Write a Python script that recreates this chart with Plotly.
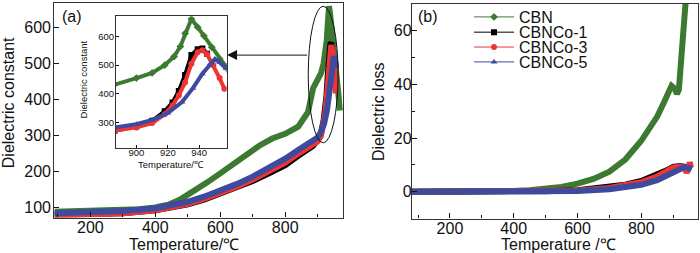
import plotly.graph_objects as go

# ---------------- data: panel (a) dielectric constant ----------------
T_cbn = [90, 150, 200, 250, 300, 350, 400, 440, 480, 520, 560, 600, 640, 680, 720, 760, 800, 840, 870,
         886, 900, 910, 918, 924, 928, 931, 935, 939, 943, 948, 953, 957, 961, 965, 968]
eps_cbn = [88, 89, 90, 91, 93, 95, 100, 108, 124, 146, 170, 195, 222, 248, 272, 292, 305, 325, 365,
           432, 455, 473, 500, 530, 565, 610, 660, 632, 602, 562, 522, 495, 450, 405, 370]

T_co1 = [90, 200, 300, 400, 450, 500, 550, 600, 650, 700, 750, 800, 840, 870, 886, 900, 910, 918, 923,
         927, 931, 935, 939, 942, 945]
eps_co1 = [80, 81, 84, 92, 99, 109, 122, 138, 155, 174, 195, 218, 244, 262, 272, 288, 307, 340, 370,
           410, 466, 535, 555, 558, 540]

T_co3 = [90, 200, 300, 400, 450, 500, 550, 600, 650, 700, 750, 800, 840, 870, 886, 900, 910, 918, 923,
         927, 931, 935, 939, 942, 945, 949, 953, 956]
eps_co3 = [78, 80, 84, 92, 100, 110, 124, 140, 158, 178, 200, 225, 250, 266, 272, 284, 299, 330, 360,
           395, 440, 505, 545, 552, 538, 500, 455, 418]

T_co5 = [90, 200, 300, 400, 450, 500, 550, 600, 650, 700, 750, 800, 840, 870, 886, 900, 910, 920, 929,
         936, 942, 947, 950, 953, 957]
eps_co5 = [84, 86, 90, 98, 105, 116, 130, 146, 165, 186, 210, 236, 260, 277, 284, 295, 310, 334, 372,
           420, 470, 505, 521, 510, 489]

# ---------------- data: panel (b) dielectric loss ----------------
Tl_cbn = [81, 200, 300, 400, 450, 500, 550, 600, 650, 700, 750, 800, 830, 850, 870, 885, 895, 905, 912,
          918, 922, 928, 933, 938, 942]
loss_cbn = [0, 0, 0.1, 0.3, 0.6, 1.0, 1.8, 3.0, 4.8, 7.5, 12, 19, 24, 28, 33, 37, 39.5, 38.5, 36.5,
            38, 45, 55, 63, 70, 75]

Tl_co1 = [81, 300, 500, 600, 700, 750, 800, 850, 880, 900, 920, 940]
loss_co1 = [0, 0, 0.2, 0.6, 1.6, 2.6, 4.0, 6.2, 8.0, 9.3, 9.6, 9.2]

Tl_co3 = [81, 300, 500, 600, 700, 750, 800, 850, 880, 900, 920, 935, 942, 948, 952, 956]
loss_co3 = [0, 0, 0.2, 0.5, 1.4, 2.3, 3.6, 5.7, 7.6, 9.0, 9.4, 9.0, 7.2, 8.5, 11, 9]

Tl_co5 = [81, 300, 500, 600, 700, 750, 800, 850, 880, 900, 920, 935, 950, 958]
loss_co5 = [0, 0, 0.1, 0.3, 0.9, 1.6, 2.6, 4.3, 6.0, 7.5, 8.8, 9.2, 8.8, 8.3]

names = ["CBN", "CBNCo-1", "CBNCo-3", "CBNCo-5"]
colors = ["#3c7a32", "#000000", "#ee3535", "#3e4a9e"]
symbols = ["diamond", "square", "circle", "triangle-up"]

eps_sets = [(T_cbn, eps_cbn), (T_co1, eps_co1), (T_co3, eps_co3), (T_co5, eps_co5)]
loss_sets = [(Tl_cbn, loss_cbn), (Tl_co1, loss_co1), (Tl_co3, loss_co3), (Tl_co5, loss_co5)]

FONT = "Liberation Sans, Arial, sans-serif"
W, H = 700, 253

def px(x):
    return x / W

def py(y):
    return 1 - y / H

fig = go.Figure()

# panel (a) main
for (t, v), c in zip(eps_sets, colors):
    fig.add_trace(go.Scatter(x=t, y=v, mode="lines", line=dict(color=c, width=6),
                             showlegend=False, xaxis="x", yaxis="y"))
# inset
for (t, v), c, s in zip(eps_sets, colors, symbols):
    fig.add_trace(go.Scatter(x=t, y=v, mode="lines+markers", line=dict(color=c, width=4),
                             marker=dict(color=c, size=6, symbol=s),
                             showlegend=False, xaxis="x3", yaxis="y3"))
# panel (b)
for (t, v), c in zip(loss_sets, colors):
    fig.add_trace(go.Scatter(x=t, y=v, mode="lines", line=dict(color=c, width=6),
                             showlegend=False, xaxis="x2", yaxis="y2"))

# legend entries (one legend per row for exact spacing)
leg_ids = ["legend", "legend2", "legend3", "legend4"]
leg_rows = [15, 30.5, 45.5, 60.5]
for n, c, s, lid in zip(names, colors, symbols, leg_ids):
    fig.add_trace(go.Scatter(x=[None], y=[None], mode="lines+markers", name=n,
                             line=dict(color=c, width=1), marker=dict(color=c, size=6, symbol=s),
                             xaxis="x2", yaxis="y2", legend=lid, showlegend=True))

axis_common = dict(showline=True, linecolor="#333", linewidth=1.3, mirror=True, ticks="inside",
                   showgrid=False, zeroline=False, color="#111",
                   tickfont=dict(family=FONT, size=16, color="#111"))

layout = dict(
    width=W, height=H, margin=dict(l=0, r=0, t=0, b=0),
    paper_bgcolor="white", plot_bgcolor="white",
    font=dict(family=FONT, size=16, color="#111"),
    xaxis=dict(domain=[px(54.3), px(343)], range=[89, 978], tickvals=[200, 400, 600, 800],
               ticklen=5, minor=dict(dtick=100, tick0=0, ticks="inside", ticklen=3), anchor="y",
               ticklabelstandoff=-5, **axis_common),
    yaxis=dict(domain=[py(217.3), py(1)], range=[72, 669], tickvals=[100, 200, 300, 400, 500, 600],
               ticklen=5, anchor="x", ticklabelstandoff=-1, **axis_common),
    xaxis2=dict(domain=[px(412), px(698)], range=[81, 978], tickvals=[200, 400, 600, 800],
                ticklen=5, minor=dict(dtick=100, tick0=0, ticks="inside", ticklen=3), anchor="y2",
                ticklabelstandoff=-5, **axis_common),
    yaxis2=dict(domain=[py(218.3), py(2)], range=[-10, 70], tickvals=[0, 20, 40, 60],
                ticklen=5, minor=dict(dtick=10, tick0=0, ticks="inside", ticklen=3), anchor="x2",
                ticklabelstandoff=-4, **axis_common),
)
inset_axis = dict(axis_common)
inset_axis["tickfont"] = dict(family=FONT, size=9.5, color="#111")
inset_axis["linewidth"] = 1
layout["xaxis3"] = dict(domain=[px(116), px(226.7)], range=[887, 957.5], tickvals=[900, 920, 940],
                        ticklen=3, anchor="y3", ticklabelstandoff=-4, **inset_axis)
layout["yaxis3"] = dict(domain=[py(146.7), py(14.3)], range=[214, 670], tickvals=[300, 400, 500, 600],
                        ticklen=3, anchor="x3", ticklabelstandoff=-1, **inset_axis)

for lid, row in zip(leg_ids, leg_rows):
    layout[lid] = dict(x=px(469), y=py(row), xanchor="left", yanchor="middle",
                       bgcolor="rgba(0,0,0,0)", borderwidth=0,
                       font=dict(family=FONT, size=16, color="#111"), itemwidth=40,
                       tracegroupgap=0)

fig.update_layout(**layout)

annots = [
    dict(text="Dielectric constant", x=px(8), y=py(102), textangle=-90, size=16),
    dict(text="Temperature/℃", x=px(184), y=py(244), textangle=0, size=16),
    dict(text="Dielectric loss", x=px(378), y=py(111), textangle=-90, size=16),
    dict(text="Temperature /℃", x=px(558), y=py(244), textangle=0, size=16),
    dict(text="Dielectric constant", x=px(83), y=py(78), textangle=-90, size=9.5),
    dict(text="Temperature/℃", x=px(171), y=py(164), textangle=0, size=9.5),
    dict(text="(a)", x=px(72), y=py(15), textangle=0, size=16),
    dict(text="(b)", x=px(428), y=py(15), textangle=0, size=16),
]
for a in annots:
    fig.add_annotation(text=a["text"], x=a["x"], y=a["y"], xref="paper", yref="paper",
                       xanchor="center", yanchor="middle", textangle=a["textangle"],
                       showarrow=False, font=dict(family=FONT, size=a["size"], color="#111"))

# ellipse around the peak region and arrow to the inset
fig.add_shape(type="circle", xref="x", yref="y", x0=871, x1=963, y0=280, y1=660,
              line=dict(color="#111", width=1))
fig.add_annotation(x=621, y=524, ax=872, ay=524, xref="x", yref="y", axref="x", ayref="y",
                   text="", showarrow=True, arrowhead=2, arrowsize=2, arrowwidth=1,
                   arrowcolor="#111")

fig.write_html("out.html", config={"displayModeBar": False},
               post_script="document.body.style.margin='0px';")
